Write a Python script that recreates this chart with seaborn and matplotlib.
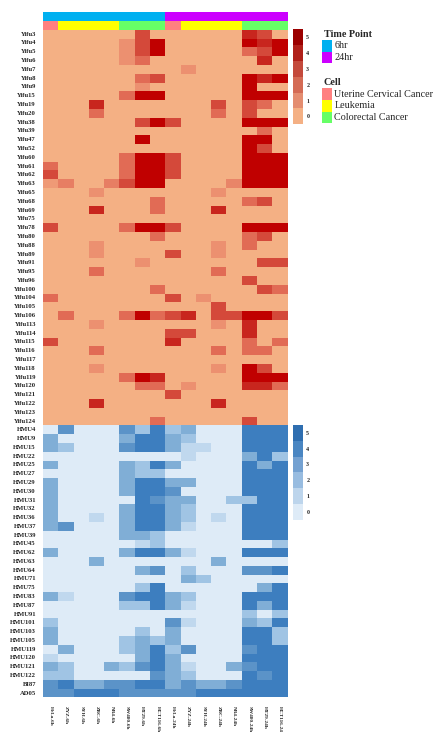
import numpy as np
import pandas as pd
import seaborn as sns
import matplotlib
matplotlib.use("Agg")
import matplotlib.pyplot as plt
from matplotlib.colors import ListedColormap, LinearSegmentedColormap, BoundaryNorm
from matplotlib.cm import ScalarMappable
from matplotlib.patches import Rectangle

# ---------------- data ----------------
samples = ["HeLa-6h", "ZYZ-6h", "SYH-6h", "ZBC-6h", "NB4-6h", "SW480-6h", "HT29-6h", "HCT116-6h",
           "HeLa-24h", "ZYZ-24h", "SYH-24h", "ZBC-24h", "NB4-24h", "SW480-24h", "HT29-24h", "HCT116-24"]
time_point = ["6hr"] * 8 + ["24hr"] * 8
cell_type = (["Uterine Cervical Cancer"] + ["Leukemia"] * 4 + ["Colorectal Cancer"] * 3) * 2

yifu_rows = ["Yifu3", "Yifu4", "Yifu5", "Yifu6", "Yifu7", "Yifu8", "Yifu9", "Yifu15", "Yifu19", "Yifu20",
             "Yifu38", "Yifu39", "Yifu47", "Yifu52", "Yifu60", "Yifu61", "Yifu62", "Yifu63", "Yifu65",
             "Yifu68", "Yifu69", "Yifu75", "Yifu78", "Yifu80", "Yifu88", "Yifu89", "Yifu91", "Yifu95",
             "Yifu96", "Yifu100", "Yifu104", "Yifu105", "Yifu106", "Yifu113", "Yifu114", "Yifu115",
             "Yifu116", "Yifu117", "Yifu118", "Yifu119", "Yifu120", "Yifu121", "Yifu122", "Yifu123",
             "Yifu124"]
yifu_values = [
    [0, 0, 0, 0, 0, 0, 3, 0, 0, 0, 0, 0, 0, 4, 3, 0],    # Yifu3
    [0, 0, 0, 0, 0, 1, 3, 5, 0, 0, 0, 0, 0, 5, 4, 5],    # Yifu4
    [0, 0, 0, 0, 0, 1, 3, 5, 0, 0, 0, 0, 0, 2, 3, 5],    # Yifu5
    [0, 0, 0, 0, 0, 1, 2, 0, 0, 0, 0, 0, 0, 0, 4, 0],    # Yifu6
    [0, 0, 0, 0, 0, 0, 0, 0, 0, 1, 0, 0, 0, 0, 0, 0],    # Yifu7
    [0, 0, 0, 0, 0, 0, 2, 3, 0, 0, 0, 0, 0, 5, 4, 5],    # Yifu8
    [0, 0, 0, 0, 0, 0, 1, 0, 0, 0, 0, 0, 0, 5, 0, 0],    # Yifu9
    [0, 0, 0, 0, 0, 2, 5, 5, 0, 0, 0, 0, 0, 5, 5, 5],    # Yifu15
    [0, 0, 0, 4, 0, 0, 0, 0, 0, 0, 0, 3, 0, 3, 2, 0],    # Yifu19
    [0, 0, 0, 2, 0, 0, 0, 0, 0, 0, 0, 2, 0, 3, 0, 0],    # Yifu20
    [0, 0, 0, 0, 0, 0, 3, 5, 3, 0, 0, 0, 0, 5, 5, 5],    # Yifu38
    [0, 0, 0, 0, 0, 0, 0, 0, 0, 0, 0, 0, 0, 0, 2, 0],    # Yifu39
    [0, 0, 0, 0, 0, 0, 5, 0, 0, 0, 0, 0, 0, 5, 5, 0],    # Yifu47
    [0, 0, 0, 0, 0, 0, 0, 0, 0, 0, 0, 0, 0, 5, 3, 0],    # Yifu52
    [0, 0, 0, 0, 0, 2, 5, 5, 3, 0, 0, 0, 0, 5, 5, 5],    # Yifu60
    [2, 0, 0, 0, 0, 2, 5, 5, 3, 0, 0, 0, 0, 5, 5, 5],    # Yifu61
    [3, 0, 0, 0, 0, 2, 5, 5, 3, 0, 0, 0, 0, 5, 5, 5],    # Yifu62
    [0.7, 1.5, 0, 0, 1.5, 3, 5, 5, 0, 0, 0, 0, 1.3, 5, 5, 5],  # Yifu63
    [0, 0, 0, 1, 0, 0, 0, 0, 0, 0, 0, 1, 0, 0, 0, 0],    # Yifu65
    [0, 0, 0, 0, 0, 0, 0, 2, 0, 0, 0, 0, 0, 2, 3, 0],    # Yifu68
    [0, 0, 0, 4, 0, 0, 0, 2, 0, 0, 0, 4, 0, 0, 0, 0],    # Yifu69
    [0, 0, 0, 0, 0, 0, 0, 0, 0, 0, 0, 0, 0, 0, 0, 0],    # Yifu75
    [3, 0, 0, 0, 0, 2, 5, 5, 3, 0, 0, 0, 0, 5, 5, 5],    # Yifu78
    [0, 0, 0, 0, 0, 0, 0, 2, 0, 0, 0, 0, 0, 2, 3, 0],    # Yifu80
    [0, 0, 0, 1, 0, 0, 0, 0, 0, 0, 0, 1, 0, 2, 0, 0],    # Yifu88
    [0, 0, 0, 1, 0, 0, 0, 0, 3, 0, 0, 1, 0, 0, 0, 0],    # Yifu89
    [0, 0, 0, 0, 0, 0, 1, 0, 0, 0, 0, 0, 0, 0, 3, 3],    # Yifu91
    [0, 0, 0, 2, 0, 0, 0, 0, 0, 0, 0, 2, 0, 0, 0, 0],    # Yifu95
    [0, 0, 0, 0, 0, 0, 0, 0, 0, 0, 0, 0, 0, 3, 0, 0],    # Yifu96
    [0, 0, 0, 0, 0, 0, 0, 2, 0, 0, 0, 0, 0, 0, 3, 2],    # Yifu100
    [2, 0, 0, 0, 0, 0, 0, 0, 3, 0, 1, 0, 0, 0, 0, 0],    # Yifu104
    [0, 0, 0, 0, 0, 0, 0, 0, 0, 0, 0, 3, 0, 0, 0, 0],    # Yifu105
    [0, 2, 0, 0, 0, 2, 5, 2, 3, 4, 0, 3, 3, 5, 5, 3],    # Yifu106
    [0, 0, 0, 1, 0, 0, 0, 0, 0, 0, 0, 1, 0, 4, 0, 0],    # Yifu113
    [0, 0, 0, 0, 0, 0, 0, 0, 3, 3, 0, 0, 0, 4, 0, 0],    # Yifu114
    [3, 0, 0, 0, 0, 0, 0, 0, 4, 0, 0, 0, 0, 2, 0, 2],    # Yifu115
    [0, 0, 0, 2, 0, 0, 0, 0, 0, 0, 0, 2, 0, 2, 2, 0],    # Yifu116
    [0, 0, 0, 0, 0, 0, 0, 0, 0, 0, 0, 0, 0, 0, 0, 0],    # Yifu117
    [0, 0, 0, 1, 0, 0, 0, 0, 0, 0, 0, 1, 0, 5, 3, 0],    # Yifu118
    [0, 0, 0, 0, 0, 2, 5, 4, 0, 0, 0, 0, 0, 5, 5, 5],    # Yifu119
    [0, 0, 0, 0, 0, 0, 2, 2, 0, 1, 0, 0, 0, 4, 4, 2],    # Yifu120
    [0, 0, 0, 0, 0, 0, 0, 0, 3, 0, 0, 0, 0, 0, 0, 0],    # Yifu121
    [0, 0, 0, 4, 0, 0, 0, 0, 0, 0, 0, 4, 0, 0, 0, 0],    # Yifu122
    [0, 0, 0, 0, 0, 0, 0, 0, 0, 0, 0, 0, 0, 0, 0, 0],    # Yifu123
    [0, 0, 0, 0, 0, 0, 0, 2, 0, 0, 0, 0, 0, 3, 0, 0],    # Yifu124
]

hmu_rows = ["HMU4", "HMU9", "HMU15", "HMU22", "HMU25", "HMU27", "HMU29", "HMU30", "HMU31", "HMU32",
            "HMU36", "HMU37", "HMU39", "HMU45", "HMU62", "HMU63", "HMU64", "HMU71", "HMU75", "HMU83",
            "HMU87", "HMU91", "HMU101", "HMU103", "HMU105", "HMU119", "HMU120", "HMU121", "HMU122",
            "BI87", "AD05"]
hmu_values = [
    [0, 4, 0, 0, 0, 4, 2, 5, 2, 3, 0, 0, 0, 5, 5, 5],    # HMU4
    [3, 0, 0, 0, 0, 3, 5, 5, 3, 2, 0, 0, 0, 5, 5, 5],    # HMU9
    [3, 2, 0, 0, 0, 4, 5, 5, 3, 1, 1, 0, 0, 5, 5, 5],    # HMU15
    [0, 0, 0, 0, 0, 0, 0, 0, 0, 1, 0, 0, 0, 3, 5, 2],    # HMU22
    [3, 0, 0, 0, 0, 3, 2, 5, 3, 0, 0, 0, 0, 5, 3, 5],    # HMU25
    [0, 0, 0, 0, 0, 3, 2, 2, 0, 0, 0, 0, 0, 5, 5, 5],    # HMU27
    [3, 0, 0, 0, 0, 3, 5, 5, 3, 3, 0, 0, 0, 5, 5, 5],    # HMU29
    [3, 0, 0, 0, 0, 3, 5, 5, 4, 0, 0, 0, 0, 5, 5, 5],    # HMU30
    [3, 0, 0, 0, 0, 0, 5, 4, 3, 3, 0, 0, 2, 2, 5, 5],    # HMU31
    [3, 0, 0, 0, 0, 3, 5, 5, 3, 2, 0, 0, 0, 5, 5, 5],    # HMU32
    [3, 0, 0, 1, 0, 3, 5, 5, 3, 2, 0, 1, 0, 5, 5, 5],    # HMU36
    [3, 4, 0, 0, 0, 3, 5, 5, 3, 1, 0, 0, 0, 5, 5, 5],    # HMU37
    [0, 0, 0, 0, 0, 3, 3, 2, 0, 0, 0, 0, 0, 5, 5, 5],    # HMU39
    [0, 0, 0, 0, 0, 0, 1, 2, 0, 0, 0, 0, 0, 0, 0, 2],    # HMU45
    [3, 0, 0, 0, 0, 3, 5, 5, 3, 1, 0, 0, 0, 5, 5, 5],    # HMU62
    [0, 0, 0, 3, 0, 0, 0, 0, 0, 0, 0, 3, 0, 0, 0, 0],    # HMU63
    [0, 0, 0, 0, 0, 0, 3, 4, 0, 2, 0, 0, 0, 4, 4, 5],    # HMU64
    [0, 0, 0, 0, 0, 0, 0, 0, 0, 3, 2, 0, 0, 0, 0, 0],    # HMU71
    [0, 0, 0, 0, 0, 0, 2, 5, 0, 0, 0, 0, 0, 0, 3, 5],    # HMU75
    [3, 1, 0, 0, 0, 4, 5, 5, 3, 2, 0, 0, 0, 5, 5, 5],    # HMU83
    [0, 0, 0, 0, 0, 2, 2, 5, 3, 1, 0, 0, 0, 5, 3, 5],    # HMU87
    [0, 0, 0, 0, 0, 0, 0, 0, 0, 0, 0, 0, 0, 2, 0, 2],    # HMU91
    [2, 0, 0, 0, 0, 0, 0, 0, 4, 1, 0, 0, 0, 3, 2, 5],    # HMU101
    [3, 0, 0, 0, 0, 0, 2, 0, 3, 0, 0, 0, 0, 5, 5, 2],    # HMU103
    [3, 0, 0, 0, 0, 2, 3, 2, 3, 0, 0, 0, 0, 5, 5, 2],    # HMU105
    [0, 3, 0, 0, 0, 2, 3, 5, 2, 4, 0, 0, 0, 4, 5, 5],    # HMU119
    [1, 0, 0, 0, 0, 0, 3, 5, 3, 0, 0, 0, 0, 5, 5, 5],    # HMU120
    [3, 2, 0, 0, 3, 2, 4, 5, 3, 1, 0, 0, 3, 4, 5, 5],    # HMU121
    [2, 2, 0, 0, 0, 0, 0, 4, 3, 2, 0, 0, 0, 5, 4, 5],    # HMU122
    [4, 5, 3, 3, 4, 4, 5, 5, 3, 4, 3, 3, 4, 5, 5, 5],    # BI87
    [4, 4, 5, 5, 5, 4, 4, 4, 4, 4, 5, 5, 5, 5, 5, 5],    # AD05
]
levels = [0, 1, 2, 3, 4, 5]

# ---------------- styles ----------------
red_cells = ["#F4B084", "#EC9070", "#E16B55", "#D4493A", "#C8261E", "#C00000"]
red_bar = ["#F4B084", "#E48D70", "#D46B55", "#C44A3C", "#B0201A", "#9B0000"]
blue_cells = ["#DEEBF7", "#C0D8EE", "#A0C4E4", "#80AED6", "#5B93C8", "#3D7EBF"]
blue_bar = ["#DEEBF7", "#BDD5EC", "#98BCE0", "#74A1D1", "#4A86C2", "#2F6EB0"]
time_colors = {"6hr": "#00B0F0", "24hr": "#CC00FF"}
cell_colors = {"Uterine Cervical Cancer": "#FF8080", "Leukemia": "#FFFF00", "Colorectal Cancer": "#66FF66"}

sns.set_style("white")
plt.rcParams["font.family"] = ["Liberation Serif", "DejaVu Serif"]

W, H = 433, 740
fig = plt.figure(figsize=(W / 100, H / 100), dpi=100)


def add_ax(x0, y0, x1, y1):
    return fig.add_axes([x0 / W, 1 - y1 / H, (x1 - x0) / W, (y1 - y0) / H])


X0, X1 = 43, 287.5
Y_T0, Y_T1, Y_C1, Y_R1, Y_B1 = 12, 20.8, 29.8, 425.5, 697.4

# annotation bars
time_keys = list(time_colors)
cell_keys = list(cell_colors)
ax_t = add_ax(X0, Y_T0, X1, Y_T1)
sns.heatmap(pd.DataFrame([[time_keys.index(t) for t in time_point]], columns=samples),
            ax=ax_t, cmap=ListedColormap([time_colors[k] for k in time_keys]),
            vmin=-0.5, vmax=len(time_keys) - 0.5, cbar=False, xticklabels=False, yticklabels=False)
ax_c = add_ax(X0, Y_T1, X1, Y_C1)
sns.heatmap(pd.DataFrame([[cell_keys.index(c) for c in cell_type]], columns=samples),
            ax=ax_c, cmap=ListedColormap([cell_colors[k] for k in cell_keys]),
            vmin=-0.5, vmax=len(cell_keys) - 0.5, cbar=False, xticklabels=False, yticklabels=False)

label_font = dict(fontsize=4.8, fontweight="bold")

# red heatmap
ax_r = add_ax(X0, Y_C1, X1, Y_R1)
df_r = pd.DataFrame(yifu_values, index=yifu_rows, columns=samples)
sns.heatmap(df_r, ax=ax_r, cmap=LinearSegmentedColormap.from_list("r", red_cells),
            vmin=0, vmax=5, cbar=False, xticklabels=False, yticklabels=True)
ax_r.set_yticklabels(yifu_rows, rotation=0, **label_font)

# blue heatmap
ax_b = add_ax(X0, Y_R1, X1, Y_B1)
df_b = pd.DataFrame(hmu_values, index=hmu_rows, columns=samples)
sns.heatmap(df_b, ax=ax_b, cmap=LinearSegmentedColormap.from_list("b", blue_cells),
            vmin=0, vmax=5, cbar=False, xticklabels=True, yticklabels=True)
ax_b.set_yticklabels(hmu_rows, rotation=0, **label_font)
ax_b.set_xticklabels(samples, rotation=270, va="top", ha="center", fontsize=3.8, fontweight="bold")

for a in (ax_r, ax_b):
    a.tick_params(axis="y", length=0, pad=5)
    a.tick_params(axis="x", length=0, pad=6)
    a.set_xlabel("")
    a.set_ylabel("")

# colorbars
def draw_cbar(colors, x0, y0, x1, y1):
    cax = add_ax(x0, y0, x1, y1)
    norm = BoundaryNorm([l - 0.5 for l in levels] + [levels[-1] + 0.5], len(levels))
    cb = fig.colorbar(ScalarMappable(norm=norm, cmap=ListedColormap(colors)), cax=cax, ticks=levels)
    cb.outline.set_visible(False)
    cb.ax.minorticks_off()
    cb.ax.tick_params(which="both", length=0, pad=2.5)
    cb.ax.set_yticklabels([str(l) for l in levels], fontsize=4.3, fontweight="bold")


draw_cbar(red_bar, 292.5, 29.3, 302.8, 124.3)
draw_cbar(blue_bar, 293.3, 425, 302.8, 519.5)

# legends
LX = 321.7
PW = 10.6


def legend_block(title, mapping, title_y, first_y, step):
    fig.text(324 / W, 1 - title_y / H, title, fontsize=7.3, fontweight="bold", va="center", ha="left")
    for i, (name, col) in enumerate(mapping.items()):
        y0 = first_y + i * step
        fig.patches.append(Rectangle((LX / W, 1 - (y0 + step) / H), PW / W, step / H,
                                     transform=fig.transFigure, facecolor=col, edgecolor="none"))
        fig.text((LX + PW + 2) / W, 1 - (y0 + step / 2) / H, name, fontsize=7.3, va="center", ha="left")


legend_block("Time Point", {"6hr": time_colors["6hr"], "24hr": time_colors["24hr"]}, 34.3, 40, 11.7)
legend_block("Cell", cell_colors, 82.3, 88.3, 11.7)

fig.savefig("out.png", dpi=100)
